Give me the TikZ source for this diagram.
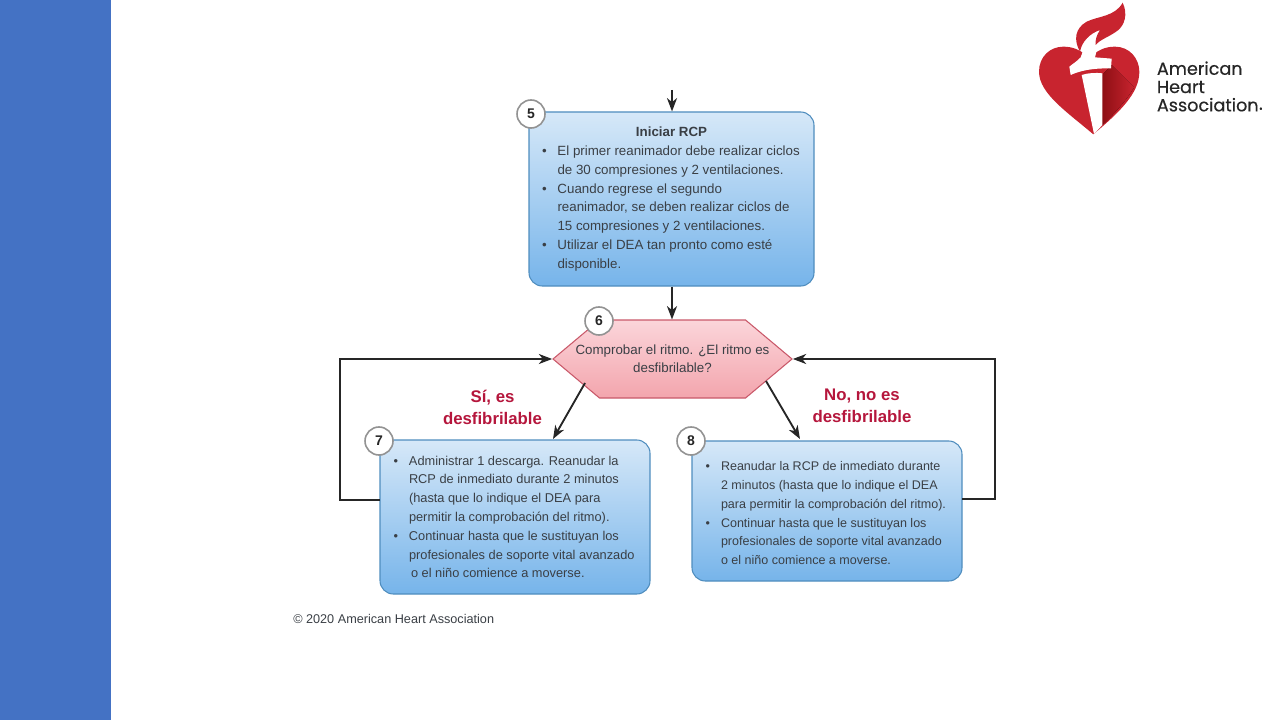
\documentclass[tikz,border=0pt]{standalone}
\usepackage{xcolor}
\usepackage{fontspec}
\setmainfont{Liberation Sans}
\newfontfamily\logofont[FakeBold=0.35]{Poppins}
\usepackage{tikz}
\usetikzlibrary{arrows.meta,shapes.symbols,calc}
\definecolor{bandblue}{HTML}{4472C4}
\definecolor{boxedge}{HTML}{4F8DBE}
\definecolor{boxtop}{HTML}{D6E8F8}
\definecolor{boxmid}{HTML}{CDE2F6}
\definecolor{boxlow}{HTML}{76B4EA}
\definecolor{hexedge}{HTML}{C9596A}
\definecolor{hextop}{HTML}{FBD5DA}
\definecolor{hexlow}{HTML}{F3A5AD}
\definecolor{labelred}{HTML}{B5163C}
\definecolor{bodytext}{HTML}{3A3F45}
\definecolor{heartred}{HTML}{C8242F}
\definecolor{heartdark}{HTML}{8E0F14}
\newcommand{\itm}[2][194pt]{\makebox[#1][l]{\makebox[11.5pt][l]{\textbullet}#2}}
\newcommand{\cnt}[2][194pt]{\makebox[#1][l]{\hspace*{11.5pt}#2}}

\begin{document}
\begin{tikzpicture}[
  x=0.75pt,y=-0.75pt,
  >={Stealth[length=10pt,width=7.5pt,inset=3pt]},
  font=\fontsize{9.6}{14.1}\selectfont,
  box/.style={draw=boxedge, thick, rounded corners=10pt, align=center, inner sep=0pt, text=bodytext,
    top color=boxtop, middle color=boxmid, bottom color=boxlow, shading angle=0},
  decision/.style={signal, signal to=west and east, signal pointer angle=80, draw=hexedge, thick, align=center,
    inner sep=0pt, text=bodytext, top color=hextop, bottom color=hexlow},
  badge/.style={circle, draw=gray!85, line width=1.2pt, fill=white, minimum size=21pt, inner sep=0pt, font=\fontsize{10.5}{12}\selectfont\bfseries, text=black!85},
  answer/.style={align=center, text=labelred, font=\fontsize{12.6}{16.5}\selectfont\bfseries},
  arrow/.style={->, line width=1.4pt, draw=black!85},
]
\useasboundingbox (0,0) rectangle (1280,720);
\fill[bandblue] (0,0) rectangle (111,720);

% Step boxes.
\node[box, minimum width=213.75pt, minimum height=130.5pt, font=\fontsize{10}{14.1}\selectfont] (start) at (671.5,199) {\textbf{Iniciar RCP}\\
  \itm{El primer reanimador debe realizar ciclos}\\
  \cnt{de 30 compresiones y 2 ventilaciones.}\\
  \itm{Cuando regrese el segundo}\\
  \cnt{reanimador, se deben realizar ciclos de}\\
  \cnt{15 compresiones y 2 ventilaciones.}\\
  \itm{Utilizar el DEA tan pronto como esté}\\
  \cnt{disponible.}};
\node[decision, minimum width=179.25pt, minimum height=58.5pt, font=\fontsize{10}{13.6}\selectfont] (rhythm) at (672.5,359) {\makebox[0pt]{Comprobar el ritmo. ¿El ritmo es}\\\makebox[0pt]{desfibrilable?}};
\node[box, minimum width=202.5pt, minimum height=115.5pt] (shock) at (515,517) {%
  \itm[182pt]{Administrar 1 descarga. Reanudar la}\\
  \cnt[182pt]{RCP de inmediato durante 2 minutos}\\
  \cnt[182pt]{(hasta que lo indique el DEA para}\\
  \cnt[182pt]{permitir la comprobación del ritmo).}\\
  \itm[182pt]{Continuar hasta que le sustituyan los}\\
  \cnt[182pt]{profesionales de soporte vital avanzado}\\
  \cnt[182pt]{\hspace*{1.5pt}o el niño comience a moverse.}};
\node[box, minimum width=202.5pt, minimum height=105pt, font=\fontsize{9.4}{14.1}\selectfont] (noshock) at (827,511) {%
  \rule{0pt}{10pt}\itm[182pt]{Reanudar la RCP de inmediato durante}\\
  \cnt[182pt]{2 minutos (hasta que lo indique el DEA}\\
  \cnt[182pt]{para permitir la comprobación del ritmo).}\\
  \itm[182pt]{Continuar hasta que le sustituyan los}\\
  \cnt[182pt]{profesionales de soporte vital avanzado}\\
  \cnt[182pt]{o el niño comience a moverse.}};

% Numbered badges.
\node[badge] (num5) at (531,114) {5};
\node[badge] (num6) at (599,321) {6};
\node[badge] (num7) at (379,441) {7};
\node[badge] (num8) at (691,441) {8};

% Answers on the two branches.
\node[answer] (yes) at (492.5,407) {Sí, es\\desfibrilable};
\node[answer] (no) at (862,406) {No, no es\\desfibrilable};

% Connectors.
\coordinate (entry) at (672,90);
\coordinate (leftfoot) at (585,383);
\coordinate (lefthit) at (553,439);
\coordinate (rightfoot) at (766,381);
\coordinate (righthit) at (800,439);
\coordinate (shockout) at (380,500);
\coordinate (noshockout) at (962,499);
\draw[arrow] (entry) -- (entry |- start.north);
\draw[arrow] (entry |- start.south) -- (entry |- rhythm.north);
\draw[arrow] (leftfoot) -- (lefthit);
\draw[arrow] (rightfoot) -- (righthit);
\draw[arrow] (shockout) -- ++(-40,0) |- (rhythm.west);
\draw[arrow] (noshockout) -- ++(33,0) |- (rhythm.east);

\node[anchor=west, inner sep=0pt, text=bodytext, font=\fontsize{9.5}{12}\selectfont] (credit) at (293,619) {© 2020 American Heart Association};

% Logo.
\begin{scope}[shift={(1030,0)},x=0.25pt,y=-0.25pt]
  \fill[heartred] (190,403) .. controls (110,335) and (27,280) .. (27,215) .. controls (27,170) and (60,140) .. (100,140) .. controls (130,140) and (150,150) .. (178,172) .. controls (205,150) and (225,140) .. (255,140) .. controls (298,140) and (328,175) .. (328,215) .. controls (328,280) and (270,335) .. (190,403) -- cycle;
  \fill[left color=heartdark, right color=heartred] (217,225) -- (245,195) -- (312,262) .. controls (290,300) and (250,345) .. (217,375) -- cycle;
  \fill[white] (152,172) -- (165,135) -- (205,130) -- (195,172) -- (245,176) -- (243,205) .. controls (215,205) and (165,205) .. (122,225) -- (118,200) .. controls (130,190) and (140,185) .. (152,172) -- cycle;
  \fill[white] (155,225) .. controls (175,218) and (200,218) .. (217,220) -- (217,375) -- (192,402) -- cycle;
  \fill[heartred] (278,8) .. controls (295,45) and (282,75) .. (265,90) .. controls (240,110) and (210,118) .. (197,135) .. controls (195,120) and (200,105) .. (210,90) .. controls (180,100) and (155,125) .. (150,155) .. controls (130,120) and (135,85) .. (170,65) .. controls (205,48) and (255,50) .. (278,8) -- cycle;
  \node[anchor=base west, inner sep=0pt, text=black!85, align=left, font=\logofont\fontsize{13.2}{13.7}\selectfont] (brand) at (380,334) {American\\Heart\\Association\raisebox{0pt}{\fontsize{4}{4}\selectfont\,®}};
\end{scope}
\end{tikzpicture}
\end{document}
